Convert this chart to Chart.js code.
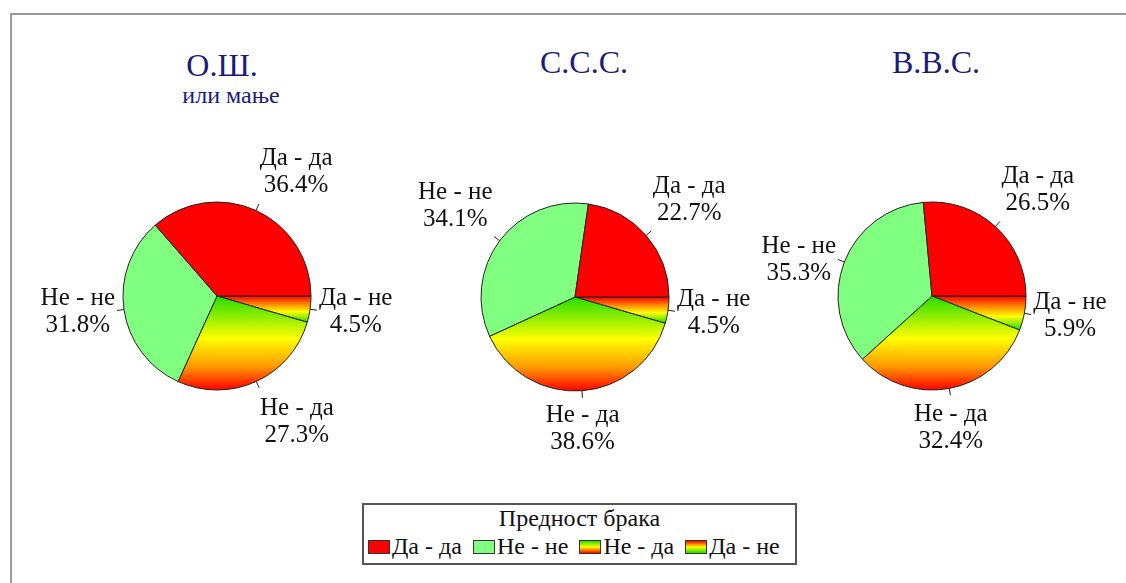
<!DOCTYPE html>
<html>
<head>
<meta charset="utf-8">
<script src="https://cdn.jsdelivr.net/npm/chart.js@4.4.0/dist/chart.umd.min.js"></script>
<style>
  body { margin: 0; background: #fff; font-family: "Liberation Serif", "Times New Roman", serif; }
  #wrap { position: relative; width: 1126px; height: 583px; overflow: hidden; }
  #frame { position: absolute; left: 10px; top: 13px; width: 1200px; height: 700px; border-left: 2px solid #9a9a9a; border-top: 2px solid #9a9a9a; }
  .pie { position: absolute; }
  .ttl { position: absolute; color: #1c1c78; text-align: center; white-space: nowrap; transform: translateX(-50%); line-height: 1; }
  .ttl.big { font-size: 32px; }
  .ttl.small { font-size: 24px; }
  #legend { position: absolute; left: 362px; top: 503px; width: 431px; height: 58px; border: 2px solid #555; background: #fff; }
  #legend .head { text-align: center; font-size: 24px; line-height: 26px; margin-top: 0; color: #111; }
  #legend .row { display: flex; padding-left: 4px; margin-top: 2px; font-size: 24px; line-height: 27px; color: #111; }
  #legend .item { display: flex; align-items: center; margin-right: 11px; }
  #legend .sw { width: 20px; height: 12px; border: 1px solid #333; margin-right: 2px; }
</style>
</head>
<body>
<div id="wrap">
  <div id="frame"></div>
  <div class="ttl big" style="left:222px; top:49px;">О.Ш.</div>
  <div class="ttl small" style="left:231px; top:83px;">или мање</div>
  <div class="ttl big" style="left:584px; top:46px;">С.С.С.</div>
  <div class="ttl big" style="left:936px; top:46px;">В.В.С.</div>
  <canvas id="pie1" class="pie" width="400" height="340" style="left:17px; top:126px;"></canvas>
  <canvas id="pie2" class="pie" width="400" height="340" style="left:375px; top:127px;"></canvas>
  <canvas id="pie3" class="pie" width="400" height="340" style="left:732px; top:126px;"></canvas>
  <div id="legend">
    <div class="head">Предност брака</div>
    <div class="row" id="legendRow"></div>
  </div>
</div>
<script>
// categories in legend order
const categories = ["Да - да", "Не - не", "Не - да", "Да - не"]
// percentages per education group, same order as categories
const oshValues = [36.4, 31.8, 27.3, 4.5]
const sssValues = [22.7, 34.1, 38.6, 4.5]
const vvsValues = [26.5, 35.3, 32.4, 5.9]

const RADIUS = 94
const GREEN = "#22dd00"
const LABEL_FONT = "25px 'Liberation Serif', 'Times New Roman', serif"

// slices go clockwise from 3 o'clock, so feed them in reverse legend order
const drawOrder = [3, 2, 1, 0]

function sliceFill(ctx, values) {
  const chart = ctx.chart
  const ca = chart.chartArea
  const cat = drawOrder[ctx.dataIndex]
  if (cat === 0) return "#ff0000"
  if (cat === 1) return "#80ff80"
  if (!ca) return "#ffaa00"
  const cy = (ca.top + ca.bottom) / 2
  const c = chart.ctx
  if (cat === 2) {
    const g = c.createLinearGradient(0, cy, 0, cy + RADIUS)
    g.addColorStop(0, GREEN)
    g.addColorStop(0.45, "#ffff00")
    g.addColorStop(0.75, "#ff9900")
    g.addColorStop(1, "#ff0000")
    return g
  }
  // Да - не: red at the top edge, green at its lowest point
  const total = values.reduce((s, v) => s + v, 0)
  const ang = values[3] / total * Math.PI * 2
  const g = c.createLinearGradient(0, cy, 0, cy + RADIUS * Math.sin(ang))
  g.addColorStop(0, "#ff0000")
  g.addColorStop(0.35, "#ff9900")
  g.addColorStop(0.6, "#ffff00")
  g.addColorStop(1, GREEN)
  return g
}

const clamp = (v, a, b) => Math.max(a, Math.min(b, v))

const outsideLabels = {
  id: "outsideLabels",
  afterDatasetsDraw(chart) {
    const c = chart.ctx
    const meta = chart.getDatasetMeta(0)
    const vals = chart.data.datasets[0].data
    c.save()
    c.font = LABEL_FONT
    c.fillStyle = "#111"
    c.strokeStyle = "#222"
    c.lineWidth = 1
    c.textBaseline = "middle"
    c.textAlign = "center"
    const lineH = 27
    meta.data.forEach((arc, i) => {
      const a = (arc.startAngle + arc.endAngle) / 2
      const cos = Math.cos(a), sin = Math.sin(a)
      const r = arc.outerRadius
      c.beginPath()
      c.moveTo(arc.x + r * cos, arc.y + r * sin)
      c.lineTo(arc.x + (r + 7) * cos, arc.y + (r + 7) * sin)
      c.stroke()
      const px = arc.x + (r + 9) * cos
      const py = arc.y + (r + 9) * sin
      const lines = [chart.data.labels[i], vals[i].toFixed(1) + "%"]
      const w = Math.max(...lines.map(t => c.measureText(t).width))
      const h = lineH * lines.length
      const hx = clamp((Math.abs(cos) - 0.2) * 5, 0, 1) * Math.sign(cos)
      const vy = clamp((Math.abs(sin) - 0.4) * 5, 0, 1) * Math.sign(sin)
      const bx = px + hx * w / 2
      const by = py + vy * (h / 2 + 4 * Math.min(1, Math.abs(cos) * 3))
      lines.forEach((t, k) => c.fillText(t, bx, by - h / 2 + lineH * (k + 0.5) + 1))
    })
    c.restore()
  }
}

function makePie(id, values) {
  const data = drawOrder.map(k => values[k])
  new Chart(document.getElementById(id), {
    type: "pie",
    data: {
      labels: drawOrder.map(k => categories[k]),
      datasets: [{
        data,
        radius: RADIUS,
        backgroundColor: ctx => sliceFill(ctx, values),
        borderColor: "#222",
        borderWidth: 1
      }]
    },
    options: {
      responsive: false,
      animation: false,
      rotation: 90,
      layout: { padding: 0 },
      plugins: { legend: { display: false }, tooltip: { enabled: false } }
    },
    plugins: [outsideLabels]
  })
}

// legend
const swatches = [
  "#ff0000",
  "#80ff80",
  "linear-gradient(to bottom, " + GREEN + ", #ffff00, #ff0000)",
  "linear-gradient(to bottom, #ff0000, #ffff00, " + GREEN + ")"
]
document.getElementById("legendRow").innerHTML = categories.map((c, i) =>
  `<div class="item"><div class="sw" style="background:${swatches[i]}"></div>${c}</div>`).join("")

// make sure the serif face is ready before the canvas text is drawn
document.fonts.load(LABEL_FONT, "Да - да 36.4%").catch(() => {}).then(() => {
  makePie("pie1", oshValues)
  makePie("pie2", sssValues)
  makePie("pie3", vvsValues)
})
</script>
</body>
</html>
